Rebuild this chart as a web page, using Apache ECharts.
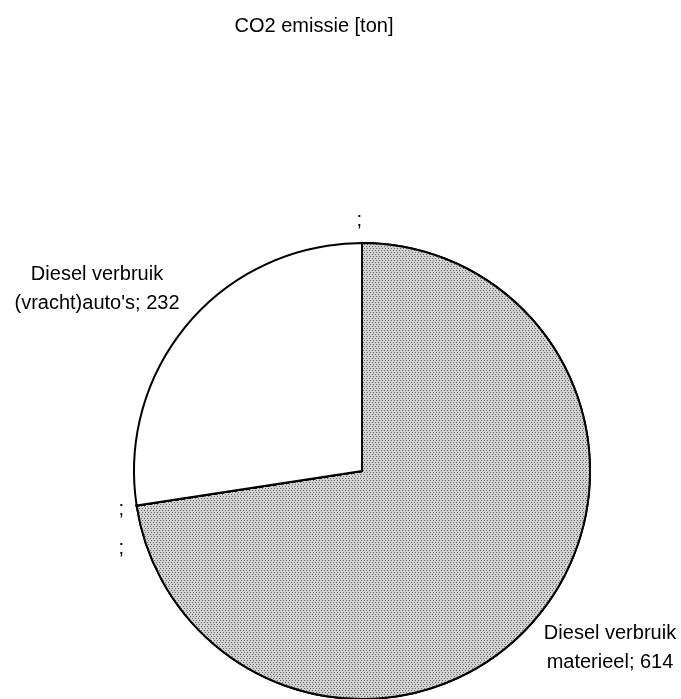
<!DOCTYPE html>
<html>
<head>
<meta charset="utf-8">
<script src="https://cdn.jsdelivr.net/npm/echarts@6/dist/echarts.min.js"></script>
<style>
html,body{margin:0;padding:0;background:#fff;}
#chart{width:681px;height:699px;}
</style>
</head>
<body>
<div id="chart"></div>
<script>
// Data
var categories = ['', 'Diesel verbruik\nmaterieel', '', '', "Diesel verbruik\n(vracht)auto's"];
var values = [0, 614, 0, 0, 232];
var chartTitle = 'CO2 emissie [ton]';

// Label placement (layout only, not data)
var labelPositions = [[362, 220], [610, 648], [124, 509], [124, 548], [97, 289]];

var fills = ['#cccccc', '#cccccc', '#cccccc', '#cccccc', '#ffffff'];

var chart = echarts.init(document.getElementById('chart'), null, {renderer: 'canvas'});
var seriesData = categories.map(function (c, i) {
  var item = {name: c, value: values[i], itemStyle: {color: fills[i]}};
  if (fills[i] !== '#ffffff') {
    item.itemStyle.decal = {
      symbol: 'rect',
      symbolSize: 1,
      dashArrayX: [[1, 2], [0, 1, 1, 1]],
      dashArrayY: [1, 1],
      color: 'rgba(30,30,30,0.6)',
      backgroundColor: '#d2d2d2'
    };
  }
  return item;
});

chart.setOption({
  animation: false,
  backgroundColor: '#ffffff',
  title: {
    text: chartTitle,
    left: 309,
    top: 11,
    textAlign: 'center',
    textStyle: {fontFamily: 'Liberation Sans, Arial, sans-serif', fontSize: 20, fontWeight: 'normal', color: '#000'}
  },
  series: [{
    type: 'pie',
    center: [362, 471],
    radius: 228,
    startAngle: 90,
    clockwise: true,
    avoidLabelOverlap: false,
    itemStyle: {borderColor: '#000', borderWidth: 2},
    label: {
      show: true,
      position: 'outside',
      fontFamily: 'Liberation Sans, Arial, sans-serif',
      fontSize: 20,
      lineHeight: 29,
      color: '#000',
      align: 'center',
      formatter: function (p) {
        return p.name + '; ' + (p.value ? p.value : '');
      }
    },
    labelLine: {show: false},
    labelLayout: function (params) {
      var pos = labelPositions[params.dataIndex];
      return {x: pos[0], y: pos[1], align: 'center', verticalAlign: 'middle'};
    },
    emphasis: {disabled: true},
    data: seriesData
  }]
});
</script>
</body>
</html>
